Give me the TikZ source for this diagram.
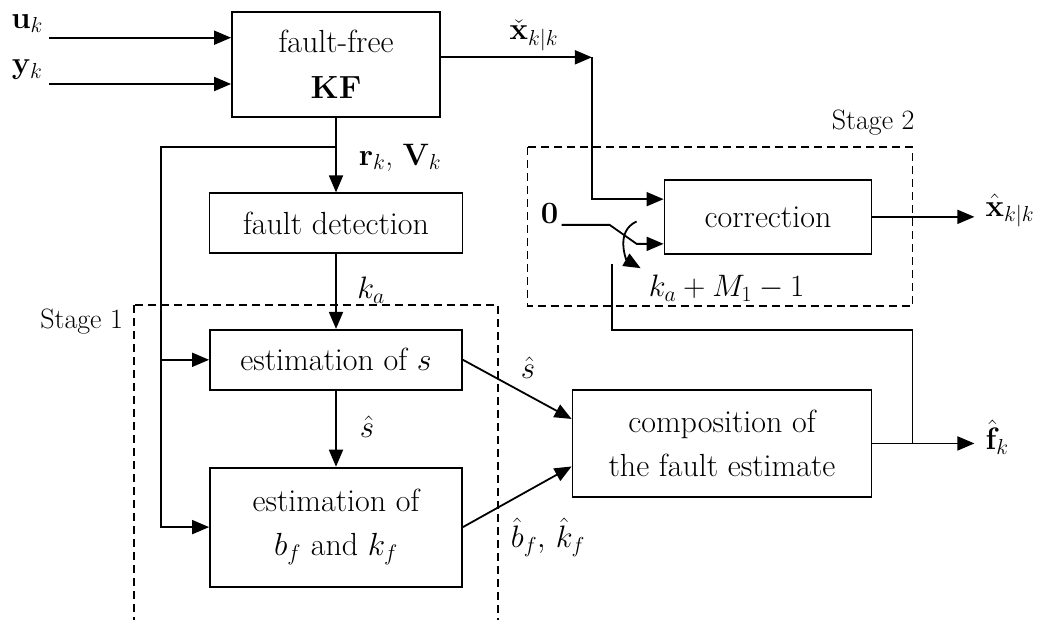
\RequirePackage{fix-cm}
\documentclass[tikz,border=0pt]{standalone}
\usepackage{amsmath}
\usepackage{tikz}
\usetikzlibrary{arrows.meta, positioning, calc}
\tikzset{
  block/.style={rectangle, draw, line width=1.8pt, align=center,
    inner sep=2pt, font=\fontsize{32}{44}\selectfont},
  arrow/.style={-{Triangle[length=17pt,width=14pt]}, line width=1.8pt},
  line/.style={line width=1.8pt},
  lbl/.style={font=\fontsize{31}{36}\selectfont, inner sep=0pt},
  stagebox/.style={dash pattern=on 8pt off 5pt, line width=1.6pt},
  stagelbl/.style={font=\fontsize{28}{34}\selectfont, inner sep=0pt}
}

\begin{document}
\begin{tikzpicture}[x=1pt, y=1pt]
  \useasboundingbox (0,0) rectangle (1040,-619);

  % main column
  \node[block, minimum width=208pt, minimum height=105pt] (kf) at (336,-64.3) {fault-free\\[2pt]\textbf{KF}};
  \node[block, minimum width=253pt, minimum height=60pt, below=74.7pt of kf] (det) {fault detection};
  \node[block, minimum width=252pt, minimum height=60pt, below=74.7pt of det] (ests) {estimation of $s$};
  \node[block, minimum width=252pt, minimum height=119pt, below=76pt of ests] (estb) {estimation of\\$b_f$ and $k_f$};

  \coordinate (mid) at ($(ests.east)!0.5!(estb.east)$);
  \node[block, minimum width=299pt, minimum height=107pt, right=108.7pt of mid] (comp) {composition of\\the fault estimate};
  \node[block, minimum width=207pt, minimum height=74pt, above=134.3pt of comp.north east, anchor=south east] (corr) {correction};

  % inputs
  \coordinate (uin) at ($(kf.west)+(-182pt,26.6pt)$);
  \coordinate (yin) at ($(kf.west)+(-182pt,-19.7pt)$);
  \node[lbl] (ulbl) at ($(uin)+(-22pt,14pt)$) {$\mathbf{u}_k$};
  \node[lbl] (ylbl) at ($(yin)+(-22pt,14pt)$) {$\mathbf{y}_k$};
  \draw[arrow] (uin) -- (kf.west |- uin);
  \draw[arrow] (yin) -- (kf.west |- yin);

  % filter output to stage 2
  \coordinate (xc) at ($(kf.east)+(151pt,7pt)$);
  \coordinate (cin1) at ($(corr.west)+(0,17.7pt)$);
  \coordinate (cin2) at ($(corr.west)+(0,-27pt)$);
  \draw[arrow] (kf.east |- xc) -- (xc);
  \node[lbl] (xclbl) at ($(xc)+(-58pt,22pt)$) {$\check{\mathbf{x}}_{k|k}$};
  \draw[arrow] (xc) |- (cin1);

  % switch
  \node[lbl] (zero) at ($(corr.west)+(-114pt,3pt)$) {$\mathbf{0}$};
  \coordinate (s0) at ($(corr.west)+(-102pt,-8pt)$);
  \coordinate (sw1) at ($(corr.west)+(-54pt,-8pt)$);
  \coordinate (sw2) at ($(corr.west)+(-27pt,-27pt)$);
  \draw[arrow] (s0) -- (sw1) -- (sw2) -- (cin2);
  \coordinate (arcA) at ($(corr.west)+(-27pt,-4.6pt)$);
  \coordinate (arcB) at ($(corr.west)+(-23pt,-51.3pt)$);
  \draw[arrow] (arcA) .. controls +(-22pt,-10pt) and +(-14pt,8pt) .. (arcB);
  \node[lbl] (kmlbl) at ($(corr.south)+(-41.5pt,-33.3pt)$) {$k_a+M_1-1$};

  % outputs
  \coordinate (xhat) at ($(corr.east)+(102pt,0)$);
  \draw[arrow] (corr.east) -- (xhat);
  \node[lbl, anchor=west] (xhatlbl) at ($(xhat)+(11pt,6pt)$) {$\hat{\mathbf{x}}_{k|k}$};
  \coordinate (fhat) at ($(comp.east)+(102pt,0)$);
  \draw[arrow] (comp.east) -- (fhat);
  \node[lbl, anchor=west] (fhatlbl) at ($(fhat)+(11pt,6pt)$) {$\hat{\mathbf{f}}_k$};

  % feedback to the switch
  \coordinate (fb) at ($(comp.east)+(40pt,0)$);
  \coordinate (fbtop) at ($(fb)+(0,113.5pt)$);
  \coordinate (fbend) at ($(corr.west)+(-52pt,-47.3pt)$);
  \draw[line] (fb) -- (fbtop) -| (fbend);

  % stage 1 chain
  \coordinate (br) at ($(kf.south)+(0,-29pt)$);
  \coordinate (lft) at ($(br)+(-175pt,0)$);
  \draw[arrow] (kf) -- (det);
  \node[lbl] (rvlbl) at ($(br)+(64pt,-11pt)$) {$\mathbf{r}_k$, $\mathbf{V}_k$};
  \draw[arrow] (br) -- (lft) |- (estb.west);
  \draw[arrow] (lft |- ests.west) -- (ests.west);
  \draw[arrow] (det) -- (ests);
  \node[lbl] (kalbl) at ($(ests.north)+(35pt,38.7pt)$) {$k_a$};
  \draw[arrow] (ests) -- (estb);
  \node[lbl] (shat1) at ($(estb.north)+(31pt,39.7pt)$) {$\hat{s}$};

  \coordinate (cw1) at ($(comp.west)+(0,24.5pt)$);
  \coordinate (cw2) at ($(comp.west)+(0,-23pt)$);
  \draw[arrow] (ests.east) -- (cw1);
  \draw[arrow] (estb.east) -- (cw2);
  \node[lbl] (shat2) at ($(ests.east)+(65pt,-8.3pt)$) {$\hat{s}$};
  \node[lbl] (bklbl) at ($(estb.east)+(85pt,-10pt)$) {$\hat{b}_f,\, \hat{k}_f$};

  % stage frames
  \draw[stagebox] ($(ests.north west)+(-75pt,24pt)$) rectangle ($(estb.south east)+(35pt,-34pt)$);
  \node[stagelbl, anchor=base east] (st1) at ($(ests.north west)+(-86pt,0)$) {Stage 1};
  \draw[stagebox] ($(corr.north west)+(-136pt,32pt)$) rectangle ($(corr.south east)+(40pt,-51.3pt)$);
  \node[stagelbl, anchor=base east] (st2) at ($(corr.north east)+(42.3pt,49.7pt)$) {Stage 2};
\end{tikzpicture}
\end{document}
